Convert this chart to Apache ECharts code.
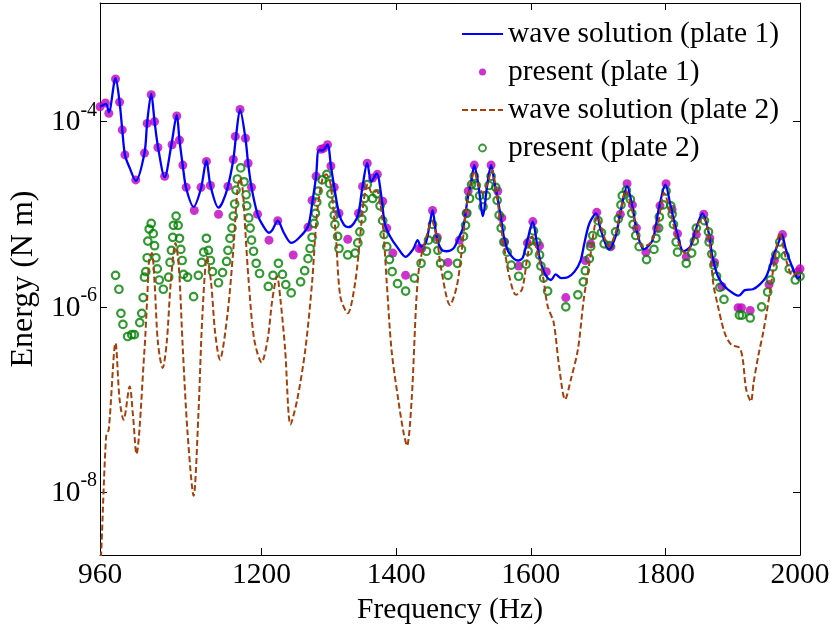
<!DOCTYPE html>
<html>
<head>
<meta charset="utf-8">
<script src="https://cdn.jsdelivr.net/npm/echarts@6/dist/echarts.min.js"></script>
<style>
html,body{margin:0;padding:0;background:#fff;}
#chart{width:833px;height:630px;}
</style>
</head>
<body>
<div id="chart"></div>
<script>
// ---- data (frequency in Hz, energy given as log10 of Energy in N m) ----
const seriesNames = ['wave solution (plate 1)', 'present (plate 1)', 'wave solution (plate 2)', 'present (plate 2)'];
const xTickValues = [960, 1200, 1400, 1600, 1800, 2000];
const yTickExponents = [-8, -6, -4];

const wave1Freq = [960,969,973,983,989,993,997,1004,1013,1026,1030,1036,1041,1046,1056,1066,1074,1078,1083,1088,1099,1110,1118,1124,1136,1142,1150,1158,1162,1168,1176,1180,1185,1194,1201,1211,1216,1224,1233,1244,1255,1269,1276,1281,1285,1291,1298,1303,1308,1315,1322,1329,1337,1344,1350,1357,1363,1371,1378,1383,1391,1401,1414,1425,1432,1437,1444,1450,1454,1460,1467,1475,1485,1492,1500,1506,1512,1516,1522,1529,1535,1541,1546,1551,1556,1561,1568,1581,1588,1595,1603,1609,1615,1623,1630,1637,1645,1655,1665,1674,1680,1687,1697,1704,1716,1726,1734,1743,1751,1758,1768,1781,1790,1800,1808,1817,1827,1837,1845,1855,1864,1870,1878,1888,1900,1909,1918,1930,1940,1950,1960,1969,1973,1979,1988,1997,2000];
const wave1LogE = [-3.84,-3.81,-3.90,-3.53,-3.79,-4.09,-4.36,-4.50,-4.64,-4.34,-4.01,-3.70,-4.00,-4.27,-4.60,-4.25,-3.93,-4.20,-4.48,-4.72,-4.92,-4.72,-4.42,-4.69,-4.93,-4.87,-4.70,-4.41,-4.16,-3.87,-4.18,-4.45,-4.71,-5.00,-5.11,-5.20,-5.17,-5.07,-5.20,-5.31,-5.26,-5.13,-4.84,-4.59,-4.31,-4.31,-4.25,-4.48,-4.71,-4.99,-5.11,-5.14,-5.10,-4.99,-4.70,-4.45,-4.65,-4.56,-4.81,-5.10,-5.24,-5.35,-5.46,-5.38,-5.28,-5.35,-5.31,-5.10,-4.96,-5.24,-5.38,-5.40,-5.37,-5.27,-5.13,-4.84,-4.63,-4.47,-4.68,-5.02,-4.70,-4.47,-4.66,-4.84,-5.06,-5.28,-5.42,-5.50,-5.47,-5.28,-5.08,-5.31,-5.53,-5.67,-5.71,-5.65,-5.69,-5.68,-5.62,-5.50,-5.30,-5.10,-4.99,-5.17,-5.38,-5.24,-4.95,-4.70,-4.92,-5.20,-5.38,-5.28,-4.95,-4.68,-4.92,-5.19,-5.40,-5.35,-5.17,-4.99,-5.19,-5.46,-5.67,-5.78,-5.85,-5.88,-5.82,-5.81,-5.76,-5.67,-5.46,-5.29,-5.22,-5.38,-5.56,-5.69,-5.67];

const present1Freq = [960,968,973,983,989,993,997,1013,1026,1030,1036,1041,1046,1056,1067,1074,1078,1083,1088,1100,1110,1118,1124,1136,1150,1158,1161,1168,1176,1180,1185,1194,1211,1224,1247,1269,1275,1281,1288,1292,1298,1303,1308,1315,1328,1344,1350,1357,1365,1372,1380,1386,1395,1414,1434,1438,1454,1461,1477,1494,1504,1507,1516,1541,1551,1557,1561,1582,1595,1603,1613,1623,1652,1681,1689,1698,1719,1733,1743,1751,1757,1771,1787,1792,1801,1810,1818,1831,1846,1857,1866,1873,1884,1908,1913,1926,1954,1962,1974,1997,2000];
const present1LogE = [-3.84,-3.80,-3.91,-3.54,-3.79,-4.09,-4.36,-4.63,-4.34,-4.02,-3.71,-4.00,-4.28,-4.59,-4.25,-3.94,-4.20,-4.47,-4.71,-4.96,-4.71,-4.43,-4.69,-5.00,-4.70,-4.41,-4.16,-3.87,-4.18,-4.45,-4.71,-5.00,-5.28,-5.07,-5.44,-5.14,-4.85,-4.59,-4.30,-4.29,-4.25,-4.48,-4.71,-4.99,-5.27,-4.99,-4.70,-4.45,-4.61,-4.57,-4.86,-5.15,-5.42,-5.66,-5.37,-5.37,-4.96,-5.25,-5.52,-5.28,-4.99,-4.75,-4.47,-4.47,-4.75,-5.04,-5.30,-5.56,-5.31,-5.08,-5.34,-5.62,-5.90,-5.50,-5.32,-4.98,-5.35,-5.00,-4.67,-4.90,-5.15,-5.41,-5.15,-4.91,-4.67,-4.95,-5.21,-5.46,-5.22,-5.00,-5.26,-5.52,-5.78,-6.01,-6.01,-6.04,-5.76,-5.50,-5.22,-5.62,-5.59];

const wave2Freq = [960,962,969,973,983,989,995,1004,1009,1014,1026,1030,1033,1037,1041,1046,1053,1059,1065,1072,1077,1083,1090,1099,1106,1112,1119,1125,1131,1138,1149,1158,1164,1168,1172,1176,1181,1189,1200,1209,1216,1223,1228,1235,1243,1253,1265,1275,1282,1290,1296,1302,1310,1317,1328,1339,1347,1352,1358,1364,1371,1379,1386,1393,1403,1411,1416,1423,1430,1435,1445,1453,1460,1467,1480,1490,1497,1504,1511,1516,1522,1529,1536,1542,1549,1555,1561,1568,1578,1587,1595,1602,1609,1618,1625,1634,1642,1651,1660,1670,1679,1687,1694,1699,1707,1716,1726,1734,1741,1748,1756,1766,1778,1789,1798,1808,1818,1830,1842,1849,1856,1864,1871,1878,1888,1898,1910,1915,1920,1927,1931,1938,1946,1956,1963,1970,1975,1982,1989,1995,2000];
const wave2LogE = [-8.90,-8.60,-7.40,-7.32,-6.39,-7.00,-7.22,-6.86,-7.18,-7.59,-6.46,-5.92,-5.49,-5.42,-5.74,-6.39,-6.66,-6.39,-5.74,-5.31,-5.56,-6.46,-7.36,-8.04,-7.18,-6.10,-5.46,-5.74,-6.28,-6.57,-6.10,-5.38,-4.74,-4.61,-4.74,-5.20,-5.74,-6.35,-6.60,-6.35,-5.92,-5.67,-5.92,-6.46,-7.27,-7.00,-6.46,-5.74,-5.02,-4.63,-4.57,-4.66,-5.20,-5.89,-6.07,-5.74,-5.20,-4.84,-4.68,-4.77,-4.75,-5.02,-5.74,-6.46,-7.00,-7.36,-7.50,-7.00,-5.92,-5.53,-5.24,-5.08,-5.24,-5.60,-5.98,-5.78,-5.42,-4.95,-4.66,-4.54,-4.68,-4.77,-4.66,-4.52,-4.77,-5.10,-5.38,-5.67,-5.87,-5.81,-5.46,-5.24,-5.38,-5.67,-5.99,-6.17,-6.64,-7.00,-6.77,-6.46,-5.90,-5.53,-5.17,-5.02,-5.20,-5.35,-5.20,-4.95,-4.74,-4.88,-5.13,-5.35,-5.31,-5.10,-4.77,-4.99,-5.28,-5.42,-5.28,-5.10,-5.04,-5.20,-5.74,-5.99,-6.28,-6.41,-6.44,-6.57,-6.89,-7.02,-6.82,-6.53,-6.25,-5.81,-5.46,-5.20,-5.35,-5.56,-5.67,-5.63,-5.60];

const present2Freq = [983,988,991,994,1001,1007,1011,1019,1022,1024,1026,1028,1030,1031,1033,1036,1039,1041,1043,1045,1048,1054,1062,1064,1066,1068,1069,1073,1076,1078,1080,1082,1084,1090,1099,1106,1111,1114,1118,1121,1124,1127,1136,1142,1148,1150,1153,1156,1158,1160,1162,1164,1169,1174,1177,1178,1181,1183,1185,1188,1192,1197,1210,1217,1225,1231,1236,1244,1258,1264,1269,1272,1275,1278,1280,1282,1284,1290,1297,1301,1303,1306,1308,1309,1313,1315,1328,1339,1343,1346,1349,1351,1353,1357,1365,1371,1376,1380,1382,1386,1390,1394,1402,1414,1427,1437,1445,1448,1454,1460,1462,1466,1477,1491,1497,1500,1503,1505,1509,1512,1516,1519,1524,1529,1534,1538,1541,1548,1550,1553,1556,1560,1565,1571,1582,1593,1596,1599,1604,1609,1613,1615,1619,1625,1652,1670,1678,1681,1687,1689,1692,1700,1705,1709,1717,1726,1730,1734,1736,1742,1748,1750,1752,1756,1761,1772,1783,1786,1790,1791,1797,1801,1808,1810,1812,1816,1818,1831,1839,1843,1846,1858,1864,1865,1869,1872,1876,1881,1887,1910,1914,1926,1943,1952,1956,1960,1964,1970,1978,1984,1993,2000];
const present2LogE = [-5.66,-5.81,-6.07,-6.19,-6.32,-6.30,-6.30,-6.17,-6.07,-5.90,-5.68,-5.62,-5.47,-5.29,-5.16,-5.10,-5.21,-5.34,-5.47,-5.59,-5.71,-5.81,-5.68,-5.52,-5.39,-5.25,-5.12,-5.02,-5.12,-5.26,-5.38,-5.50,-5.65,-5.68,-5.89,-5.66,-5.52,-5.41,-5.26,-5.39,-5.50,-5.62,-5.74,-5.63,-5.51,-5.39,-5.26,-5.15,-5.02,-4.89,-4.74,-4.62,-4.50,-4.65,-4.79,-4.91,-5.04,-5.15,-5.28,-5.40,-5.53,-5.64,-5.78,-5.66,-5.53,-5.65,-5.76,-5.85,-5.73,-5.61,-5.48,-5.37,-5.25,-5.10,-4.99,-4.87,-4.75,-4.63,-4.57,-4.67,-4.78,-4.90,-5.01,-5.11,-5.24,-5.37,-5.44,-5.42,-5.31,-5.19,-5.05,-4.94,-4.83,-4.68,-4.83,-4.78,-4.91,-5.07,-5.22,-5.35,-5.49,-5.62,-5.75,-5.83,-5.69,-5.53,-5.40,-5.28,-5.11,-5.27,-5.39,-5.53,-5.66,-5.53,-5.38,-5.24,-5.12,-4.99,-4.83,-4.68,-4.59,-4.69,-4.80,-4.92,-4.80,-4.69,-4.59,-4.71,-4.85,-5.01,-5.15,-5.30,-5.41,-5.55,-5.67,-5.54,-5.40,-5.29,-5.18,-5.30,-5.44,-5.56,-5.69,-5.83,-6.00,-5.87,-5.73,-5.61,-5.48,-5.35,-5.23,-5.07,-5.20,-5.32,-5.34,-5.19,-5.05,-4.90,-4.80,-4.74,-4.84,-4.99,-5.11,-5.23,-5.35,-5.49,-5.38,-5.26,-5.15,-5.03,-4.90,-4.75,-4.91,-5.00,-5.11,-5.30,-5.41,-5.53,-5.42,-5.29,-5.15,-5.07,-5.19,-5.30,-5.43,-5.55,-5.67,-5.79,-5.92,-6.09,-6.09,-6.12,-6.00,-5.84,-5.71,-5.57,-5.44,-5.30,-5.45,-5.59,-5.71,-5.67];

// ---- chart ----
const FONT = '"Liberation Serif", "Times New Roman", serif';
const FS = 29.5;
const yMin = Math.pow(10, -8.68);
const yMax = Math.pow(10, -2.72);
const yTickValues = yTickExponents.map(e => Math.pow(10, e));

function toPairs(freqs, logs) {
  return freqs.map((f, i) => [f, Math.pow(10, logs[i])]);
}

const axisLineStyle = { color: '#000', width: 1 };
const tickBase = { show: true, inside: true, length: 7, lineStyle: { color: '#000', width: 1 } };
const hiddenIcon = { color: 'rgba(0,0,0,0)', borderColor: 'rgba(0,0,0,0)', borderWidth: 0 };

const chart = echarts.init(document.getElementById('chart'), null, { renderer: 'canvas' });

const option = {
  animation: false,
  backgroundColor: '#fff',
  grid: { left: 97, right: 33, top: 3, bottom: 74, containLabel: false },
  xAxis: [
    {
      type: 'value', min: 960, max: 2000, position: 'bottom',
      axisLine: { show: true, onZero: false, lineStyle: axisLineStyle },
      axisTick: Object.assign({}, tickBase, { customValues: xTickValues }),
      axisLabel: { customValues: xTickValues, fontFamily: FONT, fontSize: FS, color: '#000', margin: 5,
        formatter: function (v) { return String(Math.round(v)); } },
      splitLine: { show: false },
      name: 'Frequency (Hz)', nameLocation: 'middle', nameGap: 35,
      nameTextStyle: { fontFamily: FONT, fontSize: FS, color: '#000' }
    },
    {
      type: 'value', min: 960, max: 2000, position: 'top',
      axisLine: { show: true, onZero: false, lineStyle: axisLineStyle },
      axisTick: Object.assign({}, tickBase, { customValues: xTickValues }),
      axisLabel: { show: false },
      splitLine: { show: false }
    }
  ],
  yAxis: [
    {
      type: 'log', logBase: 10, min: yMin, max: yMax, position: 'left',
      axisLine: { show: true, onZero: false, lineStyle: axisLineStyle },
      axisTick: Object.assign({}, tickBase, { customValues: yTickValues }),
      minorTick: { show: false },
      axisLabel: {
        customValues: yTickValues, margin: 3, color: '#000',
        formatter: function (v) {
          const e = Math.round(Math.log10(v));
          return '{b|10}{s|' + e + '}';
        },
        rich: {
          b: { fontFamily: FONT, fontSize: FS, lineHeight: 29, color: '#000', padding: [7.5, 0, 5.5, 0] },
          s: { fontFamily: FONT, fontSize: 20, lineHeight: 20, color: '#000', padding: [0, 0, 22, 0] }
        }
      },
      splitLine: { show: false },
      name: 'Energy (N m)', nameLocation: 'middle', nameGap: 57, nameRotate: 90,
      nameTextStyle: { fontFamily: FONT, fontSize: 32, color: '#000' }
    },
    {
      type: 'log', logBase: 10, min: yMin, max: yMax, position: 'right',
      axisLine: { show: true, onZero: false, lineStyle: axisLineStyle },
      axisTick: Object.assign({}, tickBase, { customValues: yTickValues }),
      minorTick: { show: false },
      axisLabel: { show: false },
      splitLine: { show: false }
    }
  ],
  legend: {
    orient: 'vertical', left: 461, top: 19, padding: 0,
    itemWidth: 41, itemHeight: 7, itemGap: 8,
    textStyle: { fontFamily: FONT, fontSize: FS, color: '#000' },
    data: [
      { name: seriesNames[0], itemStyle: hiddenIcon },
      { name: seriesNames[1] },
      { name: seriesNames[2], itemStyle: hiddenIcon },
      { name: seriesNames[3], itemStyle: { color: 'rgba(0,0,0,0)', borderColor: '#008000', borderWidth: 1.8 } }
    ]
  },
  series: [
    {
      name: seriesNames[0], type: 'line', xAxisIndex: 0, yAxisIndex: 0,
      data: toPairs(wave1Freq, wave1LogE),
      symbol: 'none', smooth: 0.3,
      lineStyle: { color: '#0000ff', width: 2.3 },
      itemStyle: { color: '#0000ff' }
    },
    {
      name: seriesNames[1], type: 'scatter', xAxisIndex: 0, yAxisIndex: 0,
      data: toPairs(present1Freq, present1LogE),
      symbol: 'circle', symbolSize: 9, clip: false,
      itemStyle: { color: '#bf00bf' }
    },
    {
      name: seriesNames[2], type: 'line', xAxisIndex: 0, yAxisIndex: 0,
      data: toPairs(wave2Freq, wave2LogE),
      symbol: 'none', smooth: 0.3,
      lineStyle: { color: '#a4400c', width: 2, type: [6, 3] },
      itemStyle: { color: '#a4400c' }
    },
    {
      name: seriesNames[3], type: 'scatter', xAxisIndex: 0, yAxisIndex: 0,
      data: toPairs(present2Freq, present2LogE),
      symbol: 'circle', symbolSize: 7.5, clip: false,
      itemStyle: { color: 'rgba(0,0,0,0)', borderColor: '#008000', borderWidth: 2.2 }
    }
  ]
};

chart.setOption(option);
</script>
</body>
</html>
